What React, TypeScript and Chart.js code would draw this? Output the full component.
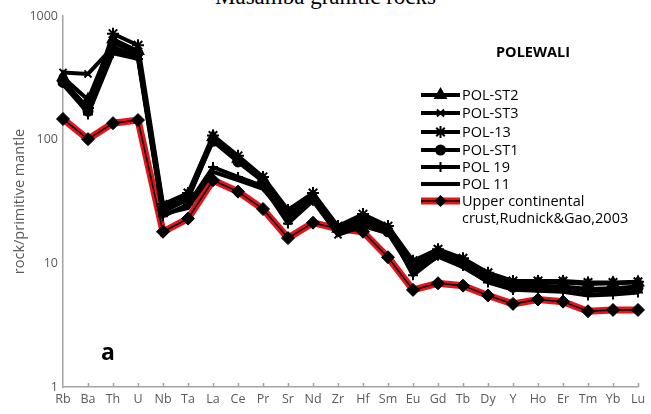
import React, { useEffect, useRef } from "react";
import { Chart, registerables } from "chart.js";
import { drawPoint } from "chart.js/helpers";

Chart.register(...registerables);

const elements = ["Rb", "Ba", "Th", "U", "Nb", "Ta", "La", "Ce", "Pr", "Sr", "Nd", "Zr", "Hf", "Sm", "Eu", "Gd", "Tb", "Dy", "Y", "Ho", "Er", "Tm", "Yb", "Lu"];
const yTickValues = [1, 10, 100, 1000];

const polST2 = [320, 210, 650, 520, 29, 36, 105, 70, 48, 26, 35, 19, 23, 19, 10, 12.5, 10.5, 8, 6.8, 7, 7, 6.8, 6.9, 7];
const polST3 = [350, 340, 560, 470, 26, 33, 100, 68, 47, 22, 34, 17, 22, 18.5, 9, 12, 10, 7.6, 6.5, 6.6, 6.5, 6.2, 6.3, 6.5];
const pol13 = [300, 180, 720, 580, 30, 37, 108, 74, 50, 27, 37, 20, 25, 20, 10.5, 13, 11, 8.4, 7.2, 7.2, 7.2, 7, 7, 7.1];
const polST1 = [290, 170, 610, 500, 27, 34, 97, 66, 46, 24, 33, 19, 21, 18, 9.5, 12, 10, 7.8, 6.4, 6.4, 6.4, 6, 6.1, 6.3];
const pol19 = [310, 160, 500, 450, 24, 30, 60, 50, 42, 21, 32, 18, 24, 19, 8, 11.5, 9.5, 7, 6.1, 6, 5.9, 5.5, 5.6, 5.8];
const pol11 = [280, 165, 520, 460, 25, 28, 55, 47, 40, 23, 32, 17, 20, 17.5, 8.5, 11.3, 9.3, 7.1, 6.2, 6.1, 6, 5.6, 5.7, 5.9];
const ucc = [147, 101, 136, 144, 18, 23, 47, 38, 27.5, 16, 21.3, 19, 18, 11.2, 6.1, 6.9, 6.6, 5.5, 4.7, 5.1, 4.9, 4.1, 4.2, 4.2];

const uccLabel = ["Upper continental", "crust,Rudnick&Gao,2003"];

const blackSeries = [
  { label: "POL-ST2", data: polST2, style: "triangle", radius: 6 },
  { label: "POL-ST3", data: polST3, style: "crossRot", radius: 5 },
  { label: "POL-13", data: pol13, style: "star", radius: 6 },
  { label: "POL-ST1", data: polST1, style: "circle", radius: 4.5 },
  { label: "POL 19", data: pol19, style: "cross", radius: 5 },
  { label: "POL 11", data: pol11, style: false as any, radius: 0 },
];

const RED = "#e3141b";
const AXIS = "#a3a3a3";
const TEXT = "#595959";
const FONT = "'Open Sans'";

const overlayPlugin = {
  id: "overlay",
  afterDatasetsDraw(chart: any) {
    const ctx = chart.ctx;
    const xs = chart.scales.x;
    const area = chart.chartArea;
    ctx.save();
    // inner tick marks on x axis
    ctx.strokeStyle = AXIS;
    ctx.lineWidth = 1.5;
    for (let i = 1; i < elements.length; i++) {
      const x = Math.round(xs.getPixelForValue(i)) + 0.5;
      ctx.beginPath();
      ctx.moveTo(x, area.bottom);
      ctx.lineTo(x, area.bottom - 4);
      ctx.stroke();
    }
    // panel label
    ctx.fillStyle = "#000";
    ctx.font = `bold 23px ${FONT}`;
    ctx.textAlign = "left";
    ctx.textBaseline = "alphabetic";
    ctx.fillText("a", 101, 360);
    // legend title
    ctx.font = `bold 14.5px ${FONT}`;
    ctx.textAlign = "center";
    ctx.textBaseline = "middle";
    ctx.fillText("POLEWALI", 533, 53);
    // legend entries
    const rows = [95, 113, 132, 150, 167, 184, 201];
    const x0 = 421, x1 = 460, xm = 440.5;
    ctx.textAlign = "left";
    ctx.font = `14.5px ${FONT}`;
    blackSeries.forEach((s, i) => {
      const y = rows[i];
      ctx.strokeStyle = "#000";
      ctx.lineWidth = 4;
      ctx.beginPath();
      ctx.moveTo(x0, y);
      ctx.lineTo(x1, y);
      ctx.stroke();
      if (s.style) {
        ctx.fillStyle = "#000";
        ctx.strokeStyle = "#000";
        ctx.lineWidth = 2;
        drawPoint(ctx, { pointStyle: s.style, radius: s.radius, borderWidth: 2, rotation: 0 }, xm, y);
      }
      ctx.fillStyle = "#000";
      ctx.fillText(s.label, 462, y + 1);
    });
    const yr = rows[6];
    ctx.strokeStyle = RED;
    ctx.lineWidth = 7;
    ctx.beginPath();
    ctx.moveTo(x0, yr);
    ctx.lineTo(x1, yr);
    ctx.stroke();
    ctx.strokeStyle = "#000";
    ctx.lineWidth = 1.5;
    ctx.beginPath();
    ctx.moveTo(x0, yr);
    ctx.lineTo(x1, yr);
    ctx.stroke();
    ctx.fillStyle = "#000";
    drawPoint(ctx, { pointStyle: "rectRot", radius: 5, borderWidth: 1, rotation: 0 }, xm, yr);
    ctx.fillText(uccLabel[0], 462, yr + 1);
    ctx.fillText(uccLabel[1], 462, yr + 18);
    ctx.restore();
  },
};

export default function App() {
  const ref = useRef<HTMLCanvasElement | null>(null);
  useEffect(() => {
    if (!ref.current) return;
    const datasets: any[] = blackSeries.map((s, i) => ({
      label: s.label,
      data: s.data,
      borderColor: "#000",
      backgroundColor: "#000",
      borderWidth: 4,
      pointStyle: s.style,
      pointRadius: s.radius,
      pointBorderWidth: 2,
      pointBorderColor: "#000",
      pointBackgroundColor: "#000",
      tension: 0,
      order: i + 1,
    }));
    datasets.push({
      label: "ucc-red",
      data: ucc,
      borderColor: RED,
      borderWidth: 7,
      pointRadius: 0,
      tension: 0,
      order: 20,
    });
    datasets.push({
      label: uccLabel.join(" "),
      data: ucc,
      borderColor: "#000",
      backgroundColor: "#000",
      borderWidth: 1.5,
      pointStyle: "rectRot",
      pointRadius: 6.5,
      pointBorderWidth: 1,
      pointBackgroundColor: "#000",
      tension: 0,
      order: 19,
    });
    const chart = new Chart(ref.current, {
      type: "line",
      data: { labels: elements, datasets },
      options: {
        responsive: false,
        animation: false,
        devicePixelRatio: 1,
        layout: { padding: { top: 16, right: 13, left: 0, bottom: 0 } },
        plugins: { legend: { display: false }, tooltip: { enabled: false }, title: { display: false } },
        scales: {
          x: {
            type: "category",
            offset: false,
            grid: { display: false, drawTicks: false },
            border: { display: true, color: AXIS, width: 1.5 },
            ticks: { color: TEXT, font: { family: FONT, size: 12.5 }, padding: 5, maxRotation: 0, autoSkip: false },
            afterFit: (s: any) => { s.height = 27; },
          },
          y: {
            type: "logarithmic",
            min: 1,
            max: 1000,
            grid: { display: false, drawTicks: false },
            border: { display: true, color: AXIS, width: 1.5 },
            afterBuildTicks: (s: any) => { s.ticks = yTickValues.map((v) => ({ value: v })); },
            ticks: { color: TEXT, font: { family: FONT, size: 12.5 }, padding: 5, callback: (v: any) => String(v) },
            title: { display: true, text: "rock/primitive mantle", color: TEXT, font: { family: FONT, size: 14.5 }, padding: { top: 11, bottom: 0 } },
            afterFit: (s: any) => { s.width = 63; },
          },
        },
      },
      plugins: [overlayPlugin],
    });
    return () => chart.destroy();
  }, []);
  return (
    <div style={{ position: "fixed", left: 0, top: 0, width: 651, height: 414, background: "#fff", overflow: "hidden" }}>
      <div style={{ position: "absolute", left: 0, top: -13, width: 651, textAlign: "center", fontFamily: "'Liberation Serif', 'Times New Roman', serif", fontSize: 23, lineHeight: "20px", color: "#000" }}>
        Masamba granitic rocks
      </div>
      <canvas ref={ref} width={651} height={414} style={{ position: "absolute", left: 0, top: 0, width: 651, height: 414 }} />
    </div>
  );
}
